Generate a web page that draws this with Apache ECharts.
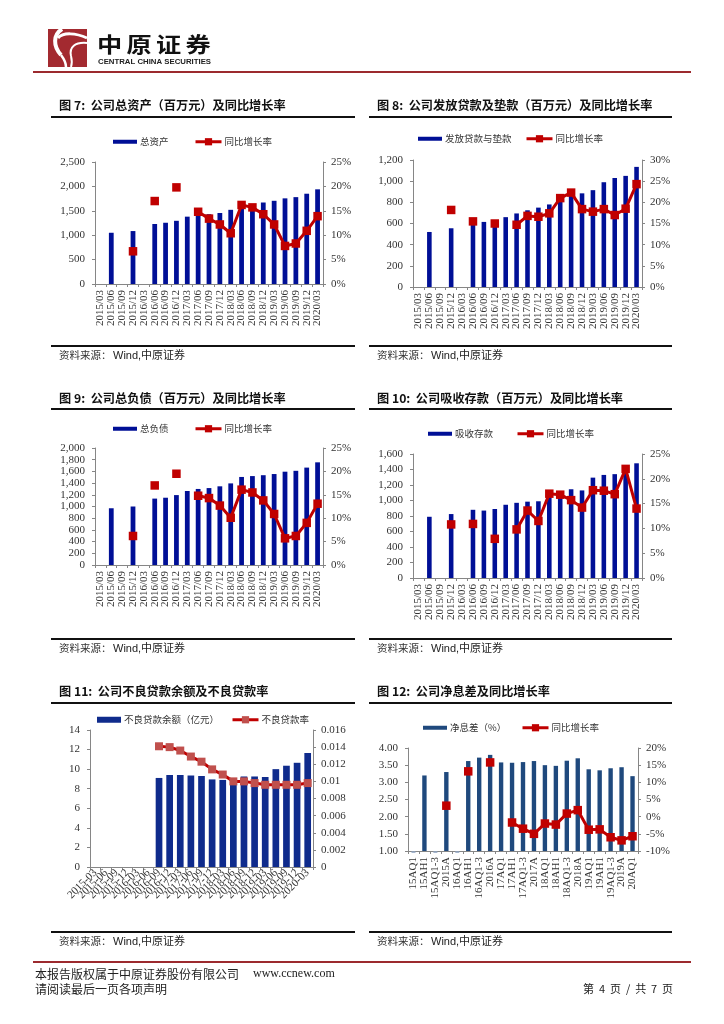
<!DOCTYPE html>
<html><head><meta charset="utf-8">
<style>html,body{margin:0;padding:0;background:#fff}#c{width:724px;height:1024px}</style>
<script src="https://cdn.jsdelivr.net/npm/echarts@6/dist/echarts.min.js"></script>
</head><body><div id="c"></div>
<script>
const quarters = ['2015/03','2015/06','2015/09','2015/12','2016/03','2016/06','2016/09','2016/12','2017/03','2017/06','2017/09','2017/12','2018/03','2018/06','2018/09','2018/12','2019/03','2019/06','2019/09','2019/12','2020/03'];
const quartersDash = ['2015-03','2015-06','2015-09','2015-12','2016-03','2016-06','2016-09','2016-12','2017-03','2017-06','2017-09','2017-12','2018-03','2018-06','2018-09','2018-12','2019-03','2019-06','2019-09','2019-12','2020-03'];
const periods = ['15AQ1','15AH1','15AQ1-3','2015A','16AQ1','16AH1','16AQ1-3','2016A','17AQ1','17AH1','17AQ1-3','2017A','18AQ1','18AH1','18AQ1-3','2018A','19AQ1','19AH1','19AQ1-3','2019A','20AQ1'];
const N = null;
const assets = [N,1050,N,1085,N,1230,1255,1295,1380,1420,1430,1455,1520,1570,1620,1670,1705,1755,1780,1850,1940];
const assetsRate = [N,N,N,6.7,N,17,N,19.8,N,14.8,13.4,12.2,10.4,16.2,15.7,14.3,12.2,7.8,8.3,10.9,13.9];
const loans = [N,520,N,555,N,590,615,600,660,695,725,750,780,820,860,885,915,990,1030,1050,1135];
const loansRate = [N,N,N,18.2,N,15.5,N,15,N,14.7,16.8,16.6,17.4,21,22.3,18.4,17.8,18.4,17,18.5,24.3];
const debts = [N,970,N,1000,N,1135,1150,1195,1265,1300,1315,1345,1395,1505,1520,1535,1555,1595,1610,1665,1755];
const debtsRate = [N,N,N,6.2,N,17,N,19.5,N,14.8,14.3,12.7,10.1,16.1,15.5,13.8,10.9,5.7,6.2,9,13.1];
const deposits = [N,790,N,825,N,880,870,890,945,970,985,990,1060,1095,1145,1130,1295,1330,1340,1400,1480];
const depositsRate = [N,N,N,10.8,N,10.9,N,7.9,N,9.8,13.6,11.5,17,16.8,15.7,14.2,17.7,17.6,16.9,22,14];
const npl = [N,N,N,N,N,N,9.1,9.4,9.4,9.35,9.3,8.95,8.9,8.7,9.25,9.25,9.2,10,10.35,10.65,11.65];
const nplRate = [N,N,N,N,N,N,0.0141,0.014,0.0136,0.0129,0.0123,0.0114,0.0108,0.01,0.01,0.0098,0.0096,0.0096,0.0096,0.0096,0.0098];
const nim = [N,3.2,N,3.3,N,3.62,3.72,3.8,3.58,3.57,3.59,3.62,3.5,3.48,3.63,3.7,3.38,3.35,3.41,3.44,3.18];
const nimEmpty = [1,N,1,N,1,N,N,N,N,N,N,N,N,N,N,N,N,N,N,N,N];
const nimRate = [N,N,N,3.2,N,13.2,N,15.8,N,-1.7,-3.5,-5,-2,-2.3,0.9,1.9,-3.8,-3.7,-6,-6.9,-5.7];

const serif = '"Liberation Serif","Noto Sans CJK SC"';
const cjk = '"Noto Sans CJK SC"';
const charts = [
 {title:'图 7:  公司总资产（百万元）及同比增长率',cats:quarters,bar:assets,line:assetsRate,barName:'总资产',lineName:'同比增长率',
  box:[95,323,162,284],lMax:2500,lInt:500,rMin:0,rMax:25,rInt:5,barColor:'#000f96',w:'44%',leg:[113,142,194],
  tx:59,ty:107,rx:[51,355],ry:[117,346],sy:357},
 {title:'图 8:  公司发放贷款及垫款（百万元）及同比增长率',cats:quarters,bar:loans,line:loansRate,barName:'发放贷款与垫款',lineName:'同比增长率',
  box:[413,642,160,287],lMax:1200,lInt:200,rMin:0,rMax:30,rInt:5,barColor:'#000f96',w:'42%',leg:[418,139,525],
  tx:377,ty:107,rx:[369,672],ry:[117,346],sy:357},
 {title:'图 9:  公司总负债（百万元）及同比增长率',cats:quarters,bar:debts,line:debtsRate,barName:'总负债',lineName:'同比增长率',
  box:[95,323,448,565],lMax:2000,lInt:200,rMin:0,rMax:25,rInt:5,barColor:'#000f96',w:'44%',leg:[113,429,194],
  tx:59,ty:400,rx:[51,355],ry:[409,639],sy:650},
 {title:'图 10:  公司吸收存款（百万元）及同比增长率',cats:quarters,bar:deposits,line:depositsRate,barName:'吸收存款',lineName:'同比增长率',
  box:[413,642,454,578],lMax:1600,lInt:200,rMin:0,rMax:25,rInt:5,barColor:'#000f96',w:'42%',leg:[428,434,516],
  tx:377,ty:400,rx:[369,672],ry:[409,639],sy:650},
 {title:'图 11:  公司不良贷款余额及不良贷款率',cats:quartersDash,bar:npl,line:nplRate,barName:'不良贷款余额（亿元）',lineName:'不良贷款率',
  box:[90,313,730,867],lMax:14,lInt:2,rMin:0,rMax:0.016,rInt:0.002,barColor:'#0f2b8c',w:'63%',leg:[97,720,231],marker:'#c0504d',
  rotate:45,barLegH:6,sym:8,tx:59,ty:693,rx:[51,355],ry:[703,932],sy:943},
 {title:'图 12:  公司净息差及同比增长率',cats:periods,bar:nim,line:nimRate,barName:'净息差（%）',lineName:'同比增长率',empty:nimEmpty,
  box:[408,638,748,851],lMin:1,lMax:4,lInt:0.5,rMin:-10,rMax:20,rInt:5,barColor:'#1f497d',w:'40%',leg:[423,728,521],
  fix:2,tx:377,ty:693,rx:[369,672],ry:[703,932],sy:943}
];

const grid=[],xAxis=[],yAxis=[],series=[],legend=[],graphic=[];
const axisGrey='#868686', textCol='#333333';
charts.forEach((c,i)=>{
  const [l,r,t,b]=c.box;
  grid.push({left:l,top:t,width:r-l,height:b-t,containLabel:false});
  xAxis.push({type:'category',gridIndex:i,data:c.cats,
    axisLine:{show:true,onZero:false,lineStyle:{color:axisGrey,width:1}},
    axisTick:{show:true,alignWithLabel:false,length:3,lineStyle:{color:axisGrey}},
    axisLabel:{interval:0,rotate:c.rotate||90,margin:c.rotate?4:6,fontFamily:serif,fontSize:11,color:textCol},
    splitLine:{show:false}});
  const left={type:'value',gridIndex:i,min:c.lMin||0,max:c.lMax,interval:c.lInt,position:'left',
    axisLine:{show:true,lineStyle:{color:axisGrey}},axisTick:{show:true,length:3,lineStyle:{color:axisGrey}},
    axisLabel:{margin:10,fontFamily:serif,fontSize:11,color:textCol},splitLine:{show:false}};
  if(c.fix) left.axisLabel.formatter=v=>v.toFixed(c.fix);
  const right={type:'value',gridIndex:i,min:c.rMin,max:c.rMax,interval:c.rInt,position:'right',
    axisLine:{show:true,lineStyle:{color:axisGrey}},axisTick:{show:true,length:3,lineStyle:{color:axisGrey}},
    axisLabel:{margin:8,fontFamily:serif,fontSize:11,color:textCol},splitLine:{show:false}};
  if(c.rMax>1) right.axisLabel.formatter='{value}%';
  yAxis.push(left,right);
  series.push({type:'bar',name:c.barName,xAxisIndex:i,yAxisIndex:i*2,data:c.bar,barWidth:c.w,
    itemStyle:{color:c.barColor},silent:true,animation:false});
  if(c.empty) series.push({type:'scatter',name:'空值',xAxisIndex:i,yAxisIndex:i*2,data:c.empty,clip:false,
    symbol:'rect',symbolSize:[4,2],symbolOffset:[0,1],itemStyle:{color:'#8fa3bf'},silent:true,animation:false});
  series.push({type:'line',name:c.lineName,xAxisIndex:i,yAxisIndex:i*2+1,data:c.line,connectNulls:false,
    symbol:'rect',symbolSize:c.sym||8.5,showAllSymbol:true,z:5,
    lineStyle:{color:'#c00000',width:3},itemStyle:{color:c.marker||'#c00000',borderWidth:0},silent:true,animation:false});
  const [bx,ly,lx]=c.leg;
  const legText={fontFamily:cjk,fontSize:9.5,color:textCol,padding:[0,0,0,-2]};
  legend.push({show:true,left:bx,top:ly-5,data:[c.barName],icon:'rect',itemWidth:24,itemHeight:c.barLegH||4,itemGap:0,padding:0,textStyle:legText,selectedMode:false});
  legend.push({show:true,left:lx,top:ly-5,data:[c.lineName],itemWidth:26,itemHeight:9,itemGap:0,padding:0,textStyle:legText,lineStyle:{width:3},selectedMode:false});
  graphic.push({type:'text',left:c.tx,top:c.ty-8,silent:true,style:{text:c.title,font:'bold 12.2px '+cjk,fill:'#111'}});
  c.ry.forEach(y=>graphic.push({type:'rect',silent:true,shape:{x:c.rx[0],y:y-1,width:c.rx[1]-c.rx[0],height:2},style:{fill:'#111'}}));
  graphic.push({type:'text',left:c.tx,top:c.sy-7,silent:true,style:{text:'资料来源：',font:'10.5px '+cjk,fill:'#333'}});
  graphic.push({type:'text',left:c.tx+54,top:c.sy-7,silent:true,style:{text:'Wind,中原证券',font:'11px "Liberation Sans","Noto Sans CJK SC"',fill:'#222'}});
});

// header
function curve(x1,y1,cx1,cy1,cx2,cy2,x2,y2,w){
  graphic.push({type:'bezierCurve',silent:true,shape:{x1,y1,cpx1:cx1,cpy1:cy1,cpx2:cx2,cpy2:cy2,x2,y2},style:{fill:'none',stroke:'#fff',lineWidth:w}});
}
graphic.push({type:'rect',silent:true,shape:{x:48,y:29,width:39,height:38},style:{fill:'#a32a30'}});
curve(62,29,53,35,53,46,61,55,4);
curve(61,55,64,59,66,63,66,67,2.5);
curve(58,38,63,32,76,33,87,38,3);
curve(87,43,75,42,69,47,71,56,2);
curve(71,56,72,60,72,64,71,67,2);
['中','原','证','券'].forEach((ch,k)=>graphic.push({type:'text',x:97+k*29.5,y:34,scaleX:1.2,silent:true,style:{text:ch,font:'bold 21px '+cjk,fill:'#111'}}));
graphic.push({type:'text',left:98,top:58,silent:true,style:{text:'CENTRAL CHINA SECURITIES',font:'bold 7.8px "Liberation Sans"',fill:'#222'}});
graphic.push({type:'rect',silent:true,shape:{x:33,y:71,width:658,height:2},style:{fill:'#9c2a2e'}});
// footer
graphic.push({type:'rect',silent:true,shape:{x:33,y:961,width:658,height:2},style:{fill:'#9c2a2e'}});
graphic.push({type:'text',left:35,top:968,silent:true,style:{text:'本报告版权属于中原证券股份有限公司',font:'12px '+cjk,fill:'#222'}});
graphic.push({type:'text',left:253,top:968,silent:true,style:{text:'www.ccnew.com',font:'12px "Liberation Serif"',fill:'#222'}});
graphic.push({type:'text',left:35,top:983,silent:true,style:{text:'请阅读最后一页各项声明',font:'12px '+cjk,fill:'#222'}});
graphic.push({type:'text',left:583,top:983,silent:true,style:{text:'第  4  页  /  共  7  页',font:'11px '+cjk,fill:'#222'}});

const chart=echarts.init(document.getElementById('c'),null,{width:724,height:1024,renderer:'canvas'});
chart.setOption({animation:false,backgroundColor:'#fff',tooltip:{show:false},grid,xAxis,yAxis,series,legend,graphic});
</script></body></html>
